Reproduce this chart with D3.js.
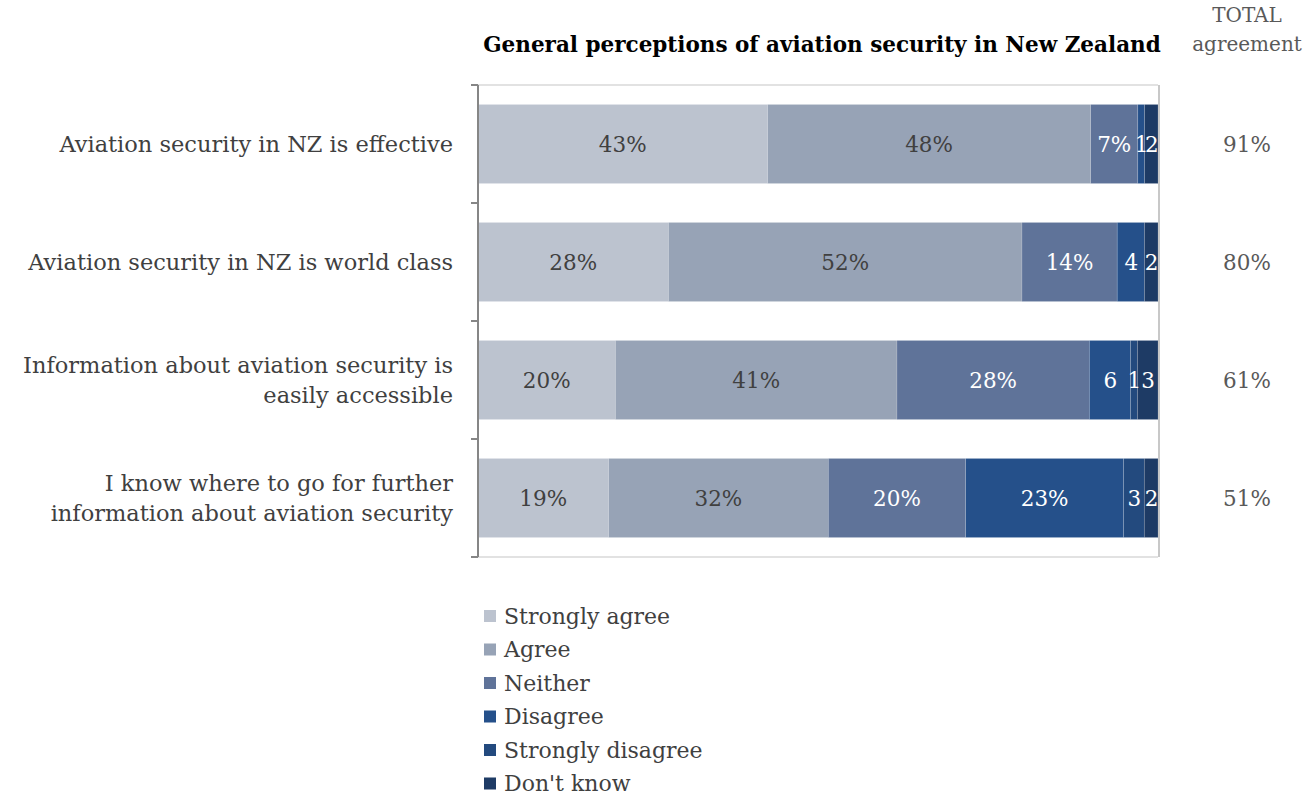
<!DOCTYPE html>
<html>
<head>
<meta charset="utf-8">
<script src="https://cdn.jsdelivr.net/npm/d3@7"></script>
<style>
  html, body { margin: 0; padding: 0; background: #ffffff; }
  svg { display: block; }
  text { font-family: "DejaVu Serif", Georgia, serif; }
</style>
</head>
<body>
<svg id="chart" width="1305" height="795"></svg>
<script>
// Survey statements (one bar each)
const categories = [
  ["Aviation security in NZ is effective"],
  ["Aviation security in NZ is world class"],
  ["Information about aviation security is", "easily accessible"],
  ["I know where to go for further", "information about aviation security"]
];
const responses = ["Strongly agree", "Agree", "Neither", "Disagree", "Strongly disagree", "Don't know"];
const stronglyAgree    = [43, 28, 20, 19];
const agree            = [48, 52, 41, 32];
const neither          = [7, 14, 28, 20];
const disagree         = [1, 4, 6, 23];
const stronglyDisagree = [0, 0, 1, 3];
const dontKnow         = [2, 2, 3, 2];
const colors = ["#bcc3cf", "#97a3b6", "#5f7399", "#25508a", "#234a7e", "#1e3b65"];
const lightText = [false, false, true, true, true, true];

const title = "General perceptions of aviation security in New Zealand";
const totalHeader = ["TOTAL", "agreement"];

const seriesValues = [stronglyAgree, agree, neither, disagree, stronglyDisagree, dontKnow];
const rows = categories.map((c, i) => {
  const r = { key: i };
  responses.forEach((s, j) => { r[s] = seriesValues[j][i]; });
  return r;
});

const svg = d3.select("#chart");
const plot = { left: 478, right: 1158, top: 85, bottom: 557 };

const x = d3.scaleLinear().domain([0, 1]).range([plot.left, plot.right]);
const y = d3.scaleBand()
  .domain(rows.map(r => r.key))
  .range([plot.top, plot.bottom])
  .paddingInner(0.33)
  .paddingOuter(0.165);

// 100% stacked layout
const stacked = d3.stack().keys(responses).offset(d3.stackOffsetExpand)(rows);

// plot-area frame
svg.append("line").attr("x1", plot.left).attr("x2", plot.right)
  .attr("y1", plot.top).attr("y2", plot.top)
  .attr("stroke", "#d9d9d9").attr("stroke-width", 1.5);
svg.append("line").attr("x1", plot.left).attr("x2", plot.right)
  .attr("y1", plot.bottom).attr("y2", plot.bottom)
  .attr("stroke", "#d9d9d9").attr("stroke-width", 1.5);

// bars
const layers = svg.append("g").selectAll("g")
  .data(stacked).join("g")
  .attr("fill", (d, i) => colors[i]);

layers.selectAll("rect")
  .data(d => d.map(p => ({ p, key: d.key })))
  .join("rect")
  .attr("x", d => x(d.p[0]))
  .attr("y", d => y(d.p.data.key))
  .attr("width", d => Math.max(0, x(d.p[1]) - x(d.p[0])))
  .attr("height", y.bandwidth())
  .attr("stroke", "rgba(255,255,255,0.25)")
  .attr("stroke-width", 0.6);

// right border drawn over bar ends
svg.append("line").attr("x1", plot.right + 1).attr("x2", plot.right + 1)
  .attr("y1", plot.top).attr("y2", plot.bottom)
  .attr("stroke", "#c8c8c8").attr("stroke-width", 2);

// value labels inside segments
stacked.forEach((layer, li) => {
  svg.append("g").selectAll("text")
    .data(layer.filter(p => p.data[layer.key] > 0))
    .join("text")
    .attr("x", p => (x(p[0]) + x(p[1])) / 2)
    .attr("y", p => y(p.data.key) + y.bandwidth() / 2)
    .attr("dy", "0.35em")
    .attr("text-anchor", "middle")
    .attr("font-size", 21.5)
    .attr("fill", lightText[li] ? "#ffffff" : "#404040")
    .attr("letter-spacing", p => p.data[layer.key] < 10 && li >= 3 ? "-1px" : null)
    .text(p => {
      const v = p.data[layer.key];
      return li >= 3 && v < 10 ? String(v) : v + "%";
    });
});

// category axis
const axisG = svg.append("g").attr("transform", `translate(${plot.left},0)`);
axisG.append("line").attr("x1", 0).attr("x2", 0)
  .attr("y1", plot.top).attr("y2", plot.bottom)
  .attr("stroke", "#868686").attr("stroke-width", 2);
const boundaries = rows.map(r => y(r.key) - y.step() * y.paddingInner() / 2);
boundaries[0] = plot.top;
boundaries.push(plot.bottom);
axisG.selectAll("line.tick").data(boundaries).join("line")
  .attr("class", "tick")
  .attr("x1", -7).attr("x2", 0)
  .attr("y1", d => d).attr("y2", d => d)
  .attr("stroke", "#868686").attr("stroke-width", 2);

// category labels
const lineH = 30;
svg.append("g").selectAll("text")
  .data(rows).join("text")
  .attr("text-anchor", "end")
  .attr("font-size", 22.5)
  .attr("fill", "#404040")
  .each(function (r, i) {
    const lines = categories[i];
    const cy = y(r.key) + y.bandwidth() / 2;
    const t = d3.select(this);
    lines.forEach((ln, k) => {
      t.append("tspan")
        .attr("x", 453)
        .attr("y", cy + (k - (lines.length - 1) / 2) * lineH)
        .attr("dy", "0.35em")
        .text(ln);
    });
  });

// title
svg.append("text")
  .attr("x", 822)
  .attr("y", 52)
  .attr("text-anchor", "middle")
  .attr("font-size", 21.5)
  .attr("font-weight", "bold")
  .attr("fill", "#000000")
  .text(title);

// total agreement column
const totalX = 1247;
svg.append("text")
  .attr("text-anchor", "middle").attr("font-size", 20).attr("fill", "#595959")
  .selectAll("tspan").data(totalHeader).join("tspan")
  .attr("x", totalX).attr("y", (d, i) => 22 + i * 29)
  .text(d => d);

svg.append("g").selectAll("text")
  .data(rows).join("text")
  .attr("x", totalX)
  .attr("y", r => y(r.key) + y.bandwidth() / 2)
  .attr("dy", "0.35em")
  .attr("text-anchor", "middle")
  .attr("font-size", 21.5)
  .attr("fill", "#595959")
  .text((r, i) => (stronglyAgree[i] + agree[i]) + "%");

// legend
const legend = svg.append("g").selectAll("g")
  .data(responses).join("g")
  .attr("transform", (d, i) => `translate(484, ${616 + i * 33.5})`);
legend.append("rect")
  .attr("x", 0).attr("y", -6).attr("width", 12).attr("height", 12)
  .attr("fill", (d, i) => colors[i]);
legend.append("text")
  .attr("x", 20).attr("dy", "0.35em")
  .attr("font-size", 22)
  .attr("fill", "#404040")
  .text(d => d);
</script>
</body>
</html>
